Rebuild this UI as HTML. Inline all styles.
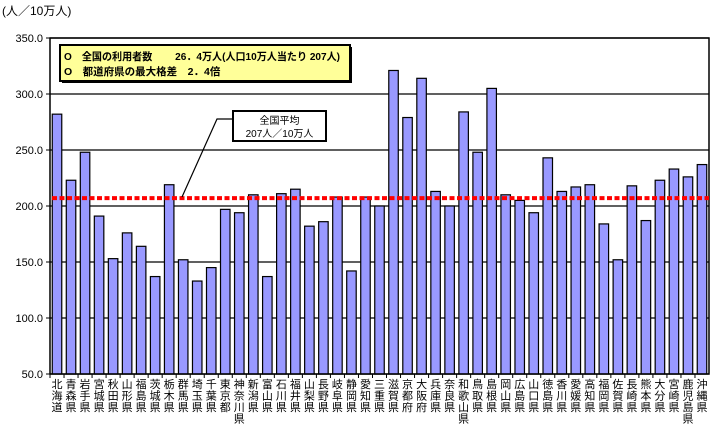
<!DOCTYPE html>
<html><head><meta charset="utf-8"><style>
body{margin:0;background:#fff;}
svg text{font-family:"Liberation Sans","Noto Sans CJK JP",sans-serif;}
</style></head><body>
<svg id="chart" width="712" height="426" xmlns="http://www.w3.org/2000/svg">
<text x="2" y="15" font-size="12">(人／10万人)</text>
<g id="grid"></g>
<g id="bars"></g>
<rect x="50" y="38" width="659" height="336" fill="none" stroke="#000" stroke-width="1.5"/>
<g id="labels"></g>
<line id="avgline" stroke="#f00" stroke-width="4" stroke-dasharray="5,2.5"/>
<g>
<rect x="62" y="47" width="290" height="36" fill="#000"/>
<rect x="60" y="45" width="290" height="36" fill="#ffff99" stroke="#000" stroke-width="2"/>
<text x="64" y="60" font-size="10.5" font-weight="bold" textLength="276" lengthAdjust="spacingAndGlyphs">O　全国の利用者数　　 26．4万人(人口10万人当たり 207人)</text>
<text x="64" y="75" font-size="10.5" font-weight="bold">O　都道府県の最大格差　2．4倍</text>
</g>
<g>
<polyline id="callout-line" points="233,119 217,119 182,197" fill="none" stroke="#000" stroke-width="1.2"/>
<rect x="233" y="111" width="93" height="30" fill="#fff" stroke="#000" stroke-width="2"/>
<text x="279.5" y="124" font-size="10" text-anchor="middle">全国平均</text>
<text x="279.5" y="137" font-size="10" text-anchor="middle">207人／10万人</text>
</g>
</svg>
<script>
const categories=["北海道","青森県","岩手県","宮城県","秋田県","山形県","福島県","茨城県","栃木県","群馬県","埼玉県","千葉県","東京都","神奈川県","新潟県","富山県","石川県","福井県","山梨県","長野県","岐阜県","静岡県","愛知県","三重県","滋賀県","京都府","大阪府","兵庫県","奈良県","和歌山県","鳥取県","島根県","岡山県","広島県","山口県","徳島県","香川県","愛媛県","高知県","福岡県","佐賀県","長崎県","熊本県","大分県","宮崎県","鹿児島県","沖縄県"];
const values=[282,223,248,191,153,176,164,137,219,152,133,145,197,194,210,137,211,215,182,186,208,142,208,200,321,279,314,213,200,284,248,305,210,205,194,243,213,217,219,184,152,218,187,223,233,226,237];
const yTicks=["50.0","100.0","150.0","200.0","250.0","300.0","350.0"];
const average=207;
const NS="http://www.w3.org/2000/svg";
const X0=50,X1=709,Y0=374,Y1=38,VMIN=50,VMAX=350;
const y=v=>Y0-(v-VMIN)/(VMAX-VMIN)*(Y0-Y1);
const step=(X1-X0)/categories.length;
const x=i=>X0+i*step;
function mk(tag,attrs,parent){const e=document.createElementNS(NS,tag);for(const k in attrs)e.setAttribute(k,attrs[k]);parent.appendChild(e);return e;}
const grid=document.getElementById('grid'),bars=document.getElementById('bars'),labels=document.getElementById('labels');
yTicks.forEach(t=>{const v=parseFloat(t);const yy=y(v);
 const l=mk('line',{x1:X0,x2:X1,y1:yy,y2:yy,stroke:'#000','stroke-width':1.2},grid);
 
 
 const tk=mk('line',{x1:X0-4,x2:X0,y1:yy,y2:yy,stroke:'#000'},grid);
 
 
 const tx=mk('text',{x:43,y:yy+4,'font-size':11,'text-anchor':'end'},labels);
 tx.textContent=t;
 
 
});
categories.forEach((c,i)=>{
 const bw=9.5;const bx=x(i)+(step-bw)/2;
 const r=mk('rect',{x:bx,y:y(values[i]),width:bw,height:Y0-y(values[i]),fill:'#9999ff',stroke:'#000','stroke-width':1.2},bars);
 
 
 const tk=mk('line',{x1:x(i),x2:x(i),y1:Y0,y2:Y0+4,stroke:'#000'},grid);
 
 
 const g=mk('g',{},labels);
 
 
 [...c].forEach((ch,j)=>{const t=mk('text',{x:x(i)+step/2,y:388+j*11.5,'font-size':11,'text-anchor':'middle'},g);t.textContent=ch;});
});
const a=document.getElementById('avgline');
a.setAttribute('x1',X0+2);a.setAttribute('x2',X1);a.setAttribute('y1',y(average));a.setAttribute('y2',y(average));
</script>
</body></html>
